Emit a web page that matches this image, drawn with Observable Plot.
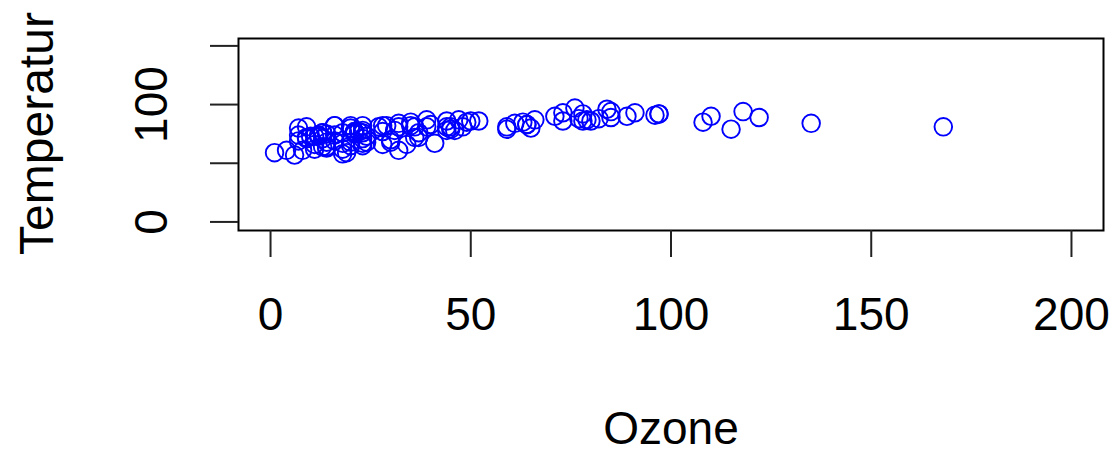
<!DOCTYPE html>
<html>
<head>
<meta charset="utf-8">
<script src="https://cdn.jsdelivr.net/npm/d3@7"></script>
<script src="https://cdn.jsdelivr.net/npm/@observablehq/plot@0.6"></script>
<style>
  html, body { margin: 0; padding: 0; background: #fff; }
  #chart svg { display: block; }
</style>
</head>
<body>
<div id="chart"></div>
<script>
// airquality: Ozone (ppb) and Temp (°F), NA as null
const ozone = [
  41,36,12,18,null,28,23,19,8,null,7,16,11,14,18,14,34,6,30,11,1,11,4,32,null,null,null,23,45,115,37,
  null,null,null,null,null,null,29,null,71,39,null,null,23,null,null,21,37,20,12,13,null,null,null,null,null,null,null,null,null,null,
  135,49,32,null,64,40,77,97,97,85,null,10,27,null,7,48,35,61,79,63,16,null,null,80,108,20,52,82,50,64,59,
  39,9,16,78,35,66,122,89,110,null,null,44,28,65,null,22,59,23,31,44,21,9,null,45,168,73,null,76,118,84,85,
  96,78,73,91,47,32,20,23,21,24,44,21,28,9,13,46,18,13,24,16,13,23,36,7,14,30,null,14,18,20
];
const temp = [
  67,72,74,62,56,66,65,59,61,69,74,69,66,68,58,64,66,57,68,62,59,73,61,61,57,58,57,67,81,79,76,
  78,74,67,84,85,79,82,87,90,87,93,92,82,80,79,77,72,65,73,76,77,76,76,76,75,78,73,80,77,83,
  84,85,81,84,83,83,88,92,92,89,82,73,81,91,80,81,82,84,87,85,74,81,82,86,85,82,86,88,86,83,81,
  81,81,82,86,85,87,89,90,90,92,86,86,82,80,79,77,79,76,78,78,77,72,75,79,81,86,88,97,94,96,94,
  91,92,93,93,87,84,80,78,75,73,81,76,77,71,71,78,67,76,68,82,64,71,81,69,63,70,77,75,76,68
];
const xTicks = [0, 50, 100, 150, 200];
const yTicks = [0, 50, 100, 150];
const yTickLabels = [0, 100];
const xLabel = "Ozone";
const yLabel = "Temperatur";

const data = ozone.map((o, i) => ({ozone: o, temp: temp[i]}))
  .filter(d => d.ozone != null && d.temp != null);

const font = "'Liberation Sans', Arial, sans-serif";
const fs = 46;

const chart = Plot.plot({
  width: 1114,
  height: 453,
  marginLeft: 238,
  marginRight: 11,
  marginTop: 38,
  marginBottom: 223,
  style: {fontFamily: font, fontSize: fs + "px", color: "#000", background: "#fff"},
  x: {domain: [-8, 208]},
  y: {domain: [-7.3, 156.3]},
  marks: [
    Plot.frame({stroke: "#000", strokeWidth: 2}),
    Plot.dot(data, {x: "ozone", y: "temp", r: 8.8, stroke: "#0000ff", strokeWidth: 1.9, fill: "none"}),
    Plot.axisX({ticks: xTicks, tickSize: 27, tickPadding: 40, strokeWidth: 2, stroke: "#222", fontSize: fs, label: null, tickFormat: d => String(d)}),
    Plot.axisY({ticks: yTicks, tickSize: 28, tickFormat: () => "", strokeWidth: 2, stroke: "#222", label: null}),
    Plot.text(yTickLabels, {y: d => d, text: d => String(d), frameAnchor: "left", dx: -86, rotate: -90, textAnchor: "middle", lineAnchor: "middle", fontSize: fs, fill: "#000"}),
    Plot.text([xLabel], {text: d => d, frameAnchor: "bottom", dy: 199, lineAnchor: "middle", fontSize: fs, fill: "#000"}),
    Plot.text([yLabel], {text: d => d, frameAnchor: "left", dx: -201, dy: -1, rotate: -90, textAnchor: "middle", lineAnchor: "middle", fontSize: 48, fill: "#000"})
  ]
});
document.getElementById("chart").appendChild(chart);
</script>
</body>
</html>
